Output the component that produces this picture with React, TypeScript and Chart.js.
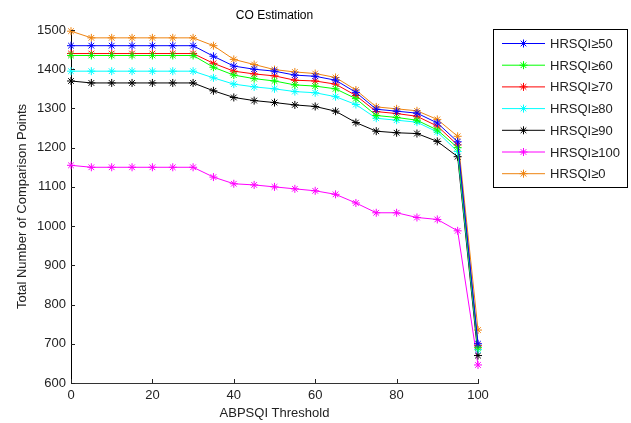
import React, { useEffect, useRef } from "react";
import { Chart, registerables } from "chart.js";

Chart.register(...registerables);

const thresholds = [0, 5, 10, 15, 20, 25, 30, 35, 40, 45, 50, 55, 60, 65, 70, 75, 80, 85, 90, 95, 100];

const hrsqi50 = [1460, 1460, 1460, 1460, 1460, 1460, 1460, 1433, 1408, 1400, 1395, 1385, 1382, 1372, 1341, 1298, 1293, 1288, 1263, 1215, 700];
const hrsqi60 = [1435, 1435, 1435, 1435, 1435, 1435, 1435, 1405, 1385, 1376, 1370, 1360, 1357, 1350, 1325, 1282, 1277, 1270, 1245, 1200, 690];
const hrsqi70 = [1440, 1440, 1440, 1440, 1440, 1440, 1440, 1415, 1395, 1388, 1383, 1372, 1370, 1362, 1333, 1292, 1287, 1280, 1255, 1207, 695];
const hrsqi80 = [1395, 1395, 1395, 1395, 1395, 1395, 1395, 1378, 1362, 1355, 1350, 1343, 1340, 1330, 1310, 1275, 1270, 1265, 1240, 1190, 685];
const hrsqi90 = [1370, 1365, 1365, 1365, 1365, 1365, 1365, 1345, 1328, 1320, 1315, 1309, 1305, 1293, 1264, 1242, 1238, 1236, 1216, 1177, 670];
const hrsqi100 = [1155, 1150, 1150, 1150, 1150, 1150, 1150, 1125, 1108, 1105, 1100, 1095, 1090, 1081, 1059, 1034, 1034, 1022, 1017, 988, 646];
const hrsqi0 = [1497, 1480, 1480, 1480, 1480, 1480, 1480, 1460, 1425, 1412, 1399, 1393, 1389, 1379, 1347, 1304, 1299, 1294, 1272, 1229, 735];

const seriesLabels = ["HRSQI≥50", "HRSQI≥60", "HRSQI≥70", "HRSQI≥80", "HRSQI≥90", "HRSQI≥100", "HRSQI≥0"];
const seriesValues = [hrsqi50, hrsqi60, hrsqi70, hrsqi80, hrsqi90, hrsqi100, hrsqi0];
const seriesColors = ["#0000ff", "#00ff00", "#ff0000", "#00ffff", "#000000", "#ff00ff", "#ee8411"];

const xTicks = [0, 20, 40, 60, 80, 100];
const yTicks = [600, 700, 800, 900, 1000, 1100, 1200, 1300, 1400, 1500];

const FONT = "'Liberation Sans', Arial, sans-serif";

export default function App() {
  const ref = useRef<HTMLCanvasElement | null>(null);

  useEffect(() => {
    document.body.style.margin = "0";
    const canvas = ref.current;
    if (!canvas) return;

    const overlay = {
      id: "overlay",
      afterDraw(chart: any) {
        const ctx = chart.ctx;
        const xs = chart.scales.x;
        const ys = chart.scales.y;
        const area = chart.chartArea;
        ctx.save();
        // inner ticks
        ctx.strokeStyle = "#222";
        ctx.lineWidth = 1;
        ctx.beginPath();
        for (const t of xTicks) {
          const px = Math.round(xs.getPixelForValue(t)) + 0.5;
          ctx.moveTo(px, area.bottom);
          ctx.lineTo(px, area.bottom - 4);
        }
        for (const t of yTicks) {
          const py = Math.round(ys.getPixelForValue(t)) + 0.5;
          ctx.moveTo(area.left, py);
          ctx.lineTo(area.left + 4, py);
        }
        ctx.stroke();

        // title
        ctx.fillStyle = "#000";
        ctx.font = `12px ${FONT}`;
        ctx.textAlign = "center";
        ctx.textBaseline = "middle";
        ctx.fillText("CO Estimation", (area.left + area.right) / 2, 16);

        // legend
        const lx = 493.5, ly = 29.5, lw = 134, lh = 158;
        ctx.fillStyle = "#fff";
        ctx.fillRect(lx, ly, lw, lh);
        ctx.strokeStyle = "#000";
        ctx.lineWidth = 1;
        ctx.strokeRect(lx, ly, lw, lh);
        ctx.font = `13px ${FONT}`;
        ctx.textAlign = "left";
        ctx.textBaseline = "middle";
        for (let i = 0; i < seriesLabels.length; i++) {
          const y = 43.5 + i * 21.7;
          ctx.strokeStyle = seriesColors[i];
          ctx.beginPath();
          ctx.moveTo(502, y);
          ctx.lineTo(545, y);
          ctx.stroke();
          // star marker
          const cx = 523.5, r = 4;
          ctx.beginPath();
          ctx.moveTo(cx - r, y); ctx.lineTo(cx + r, y);
          ctx.moveTo(cx, y - r); ctx.lineTo(cx, y + r);
          const d = r * 0.7;
          ctx.moveTo(cx - d, y - d); ctx.lineTo(cx + d, y + d);
          ctx.moveTo(cx - d, y + d); ctx.lineTo(cx + d, y - d);
          ctx.stroke();
          ctx.fillStyle = "#222";
          ctx.fillText(seriesLabels[i], 550, y + 1);
        }
        ctx.restore();
      },
    };

    const chart = new Chart(canvas, {
      type: "line",
      data: {
        datasets: seriesLabels.map((label, i) => ({
          label,
          data: thresholds.map((x, j) => ({ x, y: seriesValues[i][j] })),
          borderColor: seriesColors[i],
          backgroundColor: seriesColors[i],
          borderWidth: 1,
          pointStyle: "star",
          pointRadius: 4,
          pointBorderWidth: 1,
          pointBorderColor: seriesColors[i],
          tension: 0,
          fill: false,
          clip: false,
        })),
      },
      options: {
        animation: false,
        responsive: false,
        maintainAspectRatio: false,
        layout: { padding: { left: 15, right: 153, top: 30, bottom: 0 } },
        plugins: {
          legend: { display: false },
          title: { display: false },
          tooltip: { enabled: false },
        },
        scales: {
          x: {
            type: "linear",
            min: 0,
            max: 100,
            afterBuildTicks: (s: any) => { s.ticks = xTicks.map((v) => ({ value: v })); },
            afterFit: (s: any) => { s.height = 40; },
            grid: { display: false, drawTicks: false },
            border: { display: true, color: "#333", width: 1 },
            ticks: { color: "#222", font: { size: 13, family: FONT }, padding: 5, maxRotation: 0, callback: (v: any) => String(v) },
            title: { display: true, text: "ABPSQI Threshold", color: "#222", font: { size: 13, family: FONT }, padding: { top: 0, bottom: 2 } },
          },
          y: {
            type: "linear",
            min: 600,
            max: 1500,
            afterBuildTicks: (s: any) => { s.ticks = yTicks.map((v) => ({ value: v })); },
            afterFit: (s: any) => { s.width = 56; },
            grid: { display: false, drawTicks: false },
            border: { display: true, color: "#000", width: 1 },
            ticks: { color: "#222", font: { size: 13, family: FONT }, padding: 5, callback: (v: any) => String(v) },
            title: { display: true, text: "Total Number of Comparison Points", color: "#222", font: { size: 13, family: FONT }, padding: { top: 0, bottom: 0 } },
          },
        },
      },
      plugins: [overlay],
    });

    return () => chart.destroy();
  }, []);

  return (
    <div style={{ width: 631, height: 423, background: "#fff" }}>
      <canvas ref={ref} width={631} height={423} style={{ width: 631, height: 423, display: "block" }} />
    </div>
  );
}
